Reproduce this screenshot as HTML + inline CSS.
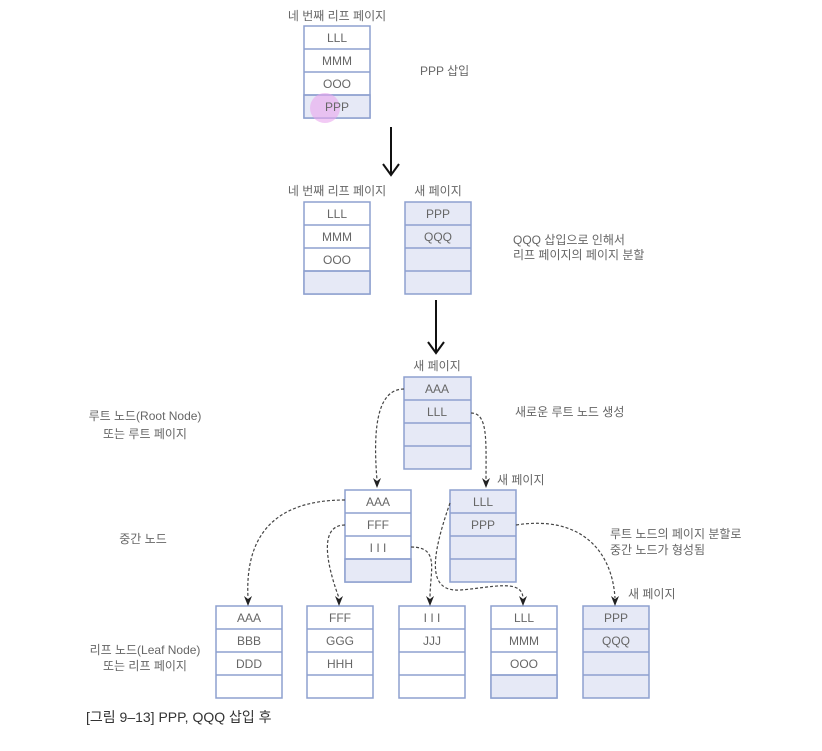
<!DOCTYPE html>
<html><head><meta charset="utf-8"><style>
html,body{margin:0;padding:0;background:#fff}
svg text{font-family:"Liberation Sans","Noto Sans CJK KR",sans-serif;fill:#666;font-size:12px}
</style></head><body>
<svg width="822" height="746" viewBox="0 0 822 746" xmlns="http://www.w3.org/2000/svg">
<g stroke="#8da0cf" stroke-width="1.5">
<rect x="304" y="26" width="66" height="92" fill="#fff"/><rect x="304" y="95" width="66" height="23" fill="#e6e9f6"/>
<line x1="304" y1="49" x2="370" y2="49"/><line x1="304" y1="72" x2="370" y2="72"/><line x1="304" y1="95" x2="370" y2="95"/>
<rect x="304" y="202" width="66" height="92" fill="#fff"/><rect x="304" y="271" width="66" height="23" fill="#e6e9f6"/>
<line x1="304" y1="225" x2="370" y2="225"/><line x1="304" y1="248" x2="370" y2="248"/><line x1="304" y1="271" x2="370" y2="271"/>
<rect x="405" y="202" width="66" height="92" fill="#e6e9f6"/>
<line x1="405" y1="225" x2="471" y2="225"/><line x1="405" y1="248" x2="471" y2="248"/><line x1="405" y1="271" x2="471" y2="271"/>
<rect x="404" y="377" width="67" height="92" fill="#e6e9f6"/>
<line x1="404" y1="400" x2="471" y2="400"/><line x1="404" y1="423" x2="471" y2="423"/><line x1="404" y1="446" x2="471" y2="446"/>
<rect x="345" y="490" width="66" height="92" fill="#fff"/><rect x="345" y="559" width="66" height="23" fill="#e6e9f6"/>
<line x1="345" y1="513" x2="411" y2="513"/><line x1="345" y1="536" x2="411" y2="536"/><line x1="345" y1="559" x2="411" y2="559"/>
<rect x="450" y="490" width="66" height="92" fill="#e6e9f6"/>
<line x1="450" y1="513" x2="516" y2="513"/><line x1="450" y1="536" x2="516" y2="536"/><line x1="450" y1="559" x2="516" y2="559"/>
<rect x="216" y="606" width="66" height="92" fill="#fff"/>
<line x1="216" y1="629" x2="282" y2="629"/><line x1="216" y1="652" x2="282" y2="652"/><line x1="216" y1="675" x2="282" y2="675"/>
<rect x="307" y="606" width="66" height="92" fill="#fff"/>
<line x1="307" y1="629" x2="373" y2="629"/><line x1="307" y1="652" x2="373" y2="652"/><line x1="307" y1="675" x2="373" y2="675"/>
<rect x="399" y="606" width="66" height="92" fill="#fff"/>
<line x1="399" y1="629" x2="465" y2="629"/><line x1="399" y1="652" x2="465" y2="652"/><line x1="399" y1="675" x2="465" y2="675"/>
<rect x="491" y="606" width="66" height="92" fill="#fff"/><rect x="491" y="675" width="66" height="23" fill="#e6e9f6"/>
<line x1="491" y1="629" x2="557" y2="629"/><line x1="491" y1="652" x2="557" y2="652"/><line x1="491" y1="675" x2="557" y2="675"/>
<rect x="583" y="606" width="66" height="92" fill="#e6e9f6"/>
<line x1="583" y1="629" x2="649" y2="629"/><line x1="583" y1="652" x2="649" y2="652"/><line x1="583" y1="675" x2="649" y2="675"/>
</g>
<circle cx="325" cy="108" r="15" fill="#e9a6ee" opacity="0.6"/>
<g text-anchor="middle">
<text x="337" y="42">LLL</text><text x="337" y="65">MMM</text><text x="337" y="88">OOO</text><text x="337" y="111">PPP</text>
<text x="337" y="218">LLL</text><text x="337" y="241">MMM</text><text x="337" y="264">OOO</text>
<text x="438" y="218">PPP</text><text x="438" y="241">QQQ</text>
<text x="437" y="393">AAA</text><text x="437" y="416">LLL</text>
<text x="378" y="506">AAA</text><text x="378" y="529">FFF</text><text x="378" y="552">I I I</text>
<text x="483" y="506">LLL</text><text x="483" y="529">PPP</text>
<text x="249" y="622">AAA</text><text x="249" y="645">BBB</text><text x="249" y="668">DDD</text>
<text x="340" y="622">FFF</text><text x="340" y="645">GGG</text><text x="340" y="668">HHH</text>
<text x="432" y="622">I I I</text><text x="432" y="645">JJJ</text>
<text x="524" y="622">LLL</text><text x="524" y="645">MMM</text><text x="524" y="668">OOO</text>
<text x="616" y="622">PPP</text><text x="616" y="645">QQQ</text>
<text x="337" y="20">네 번째 리프 페이지</text>
<text x="337" y="195">네 번째 리프 페이지</text>
<text x="438" y="195">새 페이지</text>
<text x="437" y="370">새 페이지</text>
<text x="145" y="420">루트 노드(Root Node)</text>
<text x="145" y="438">또는 루트 페이지</text>
<text x="143" y="543">중간 노드</text>
<text x="145" y="654">리프 노드(Leaf Node)</text>
<text x="145" y="670">또는 리프 페이지</text>
</g>
<text x="420" y="75">PPP 삽입</text>
<text x="513" y="244">QQQ 삽입으로 인해서</text>
<text x="513" y="259">리프 페이지의 페이지 분할</text>
<text x="515" y="416">새로운 루트 노드 생성</text>
<text x="497" y="484">새 페이지</text>
<text x="610" y="538">루트 노드의 페이지 분할로</text>
<text x="610" y="554">중간 노드가 형성됨</text>
<text x="628" y="598">새 페이지</text>
<text x="86" y="722" style="font-size:14px;fill:#333">[그림 9–13] PPP, QQQ 삽입 후</text>
<g stroke="#111" stroke-width="2" fill="none">
<line x1="391" y1="127" x2="391" y2="174"/><path d="M383,164 L391,175 L399,164"/>
<line x1="436" y1="300" x2="436" y2="352"/><path d="M428,342 L436,353 L444,342"/>
</g>
<g stroke="#444" stroke-width="1.2" fill="none" stroke-dasharray="3,2">
<path d="M404,389 C380,389 372,420 377,480"/>
<path d="M471,413 C488,413 486,440 486,480"/>
<path d="M345,500 C270,500 245,540 248,598"/>
<path d="M345,525 C320,525 325,560 339,598"/>
<path d="M411,547 C440,547 430,570 430,598"/>
<path d="M450,503 C430,560 428,592 460,590 C490,588 522,578 523,598"/>
<path d="M516,525 C580,515 612,550 615,598"/>
</g>
<g fill="#222">
<path d="M373,478 L377,488 L381,478 L377,481Z"/>
<path d="M482,478 L486,488 L490,478 L486,481Z"/>
<path d="M244,596 L248,606 L252,596 L248,599Z"/>
<path d="M335,596 L339,606 L343,596 L339,599Z"/>
<path d="M426,596 L430,606 L434,596 L430,599Z"/>
<path d="M519,596 L523,606 L527,596 L523,599Z"/>
<path d="M611,596 L615,606 L619,596 L615,599Z"/>
</g>
</svg>
</body></html>
